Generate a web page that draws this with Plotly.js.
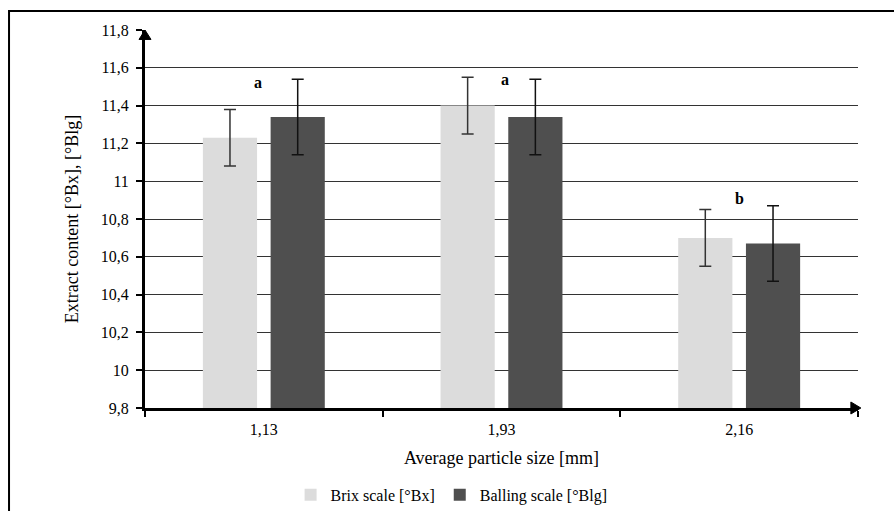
<!DOCTYPE html>
<html>
<head>
<meta charset="utf-8">
<script src="https://cdn.plot.ly/plotly-3.0.1.min.js"></script>
<style>html,body{margin:0;padding:0;background:#fff;}#chart{width:894px;height:511px;}</style>
</head>
<body>
<div id="chart"></div>
<script>
const categories = ["1,13", "1,93", "2,16"];
const brixValues = [11.23, 11.40, 10.70];
const brixErrors = [0.15, 0.15, 0.15];
const ballingValues = [11.34, 11.34, 10.67];
const ballingErrors = [0.20, 0.20, 0.20];
const groupLetters = ["a", "a", "b"];
const letterY = [11.52, 11.54, 10.91];
const letterShift = [-6, 3, 0];

const serif = "Liberation Serif, Times New Roman, serif";

const traces = [
  {
    type: "bar", name: "Brix scale [°Bx]", x: categories, y: brixValues,
    marker: {color: "#dcdcdc"},
    error_y: {type: "data", array: brixErrors, visible: true, color: "#333333", thickness: 1.5, width: 6}
  },
  {
    type: "bar", name: "Balling scale [°Blg]", x: categories, y: ballingValues,
    marker: {color: "#4f4f4f"},
    error_y: {type: "data", array: ballingErrors, visible: true, color: "#111111", thickness: 1.5, width: 6}
  }
];

const annotations = categories.map((c, i) => ({
  x: c, y: letterY[i], xref: "x", yref: "y", text: "<b>" + groupLetters[i] + "</b>",
  showarrow: false, xshift: letterShift[i], font: {family: serif, size: 16, color: "#000"}
}));

const layout = {
  width: 894, height: 511,
  margin: {l: 145, r: 36, t: 30, b: 103, autoexpand: false},
  paper_bgcolor: "#ffffff", plot_bgcolor: "#ffffff",
  separators: ",.",
  barmode: "group", bargap: 0.43, bargroupgap: 0.2,
  font: {family: serif, size: 16, color: "#000"},
  showlegend: true,
  legend: {orientation: "h", x: 0.43, xanchor: "center", y: -0.185, yanchor: "top",
           font: {family: serif, size: 16, color: "#000"}, traceorder: "normal",
           itemwidth: 30},
  xaxis: {
    type: "category", showline: true, linecolor: "#000", linewidth: 3,
    ticks: "outside", tickson: "boundaries", ticklen: 6, tickwidth: 2, tickcolor: "#000",
    showgrid: false, zeroline: false, automargin: false, ticklabelstandoff: 5,
    tickfont: {family: serif, size: 16},
    title: {text: "Average particle size [mm]", font: {family: serif, size: 18}, standoff: 15}
  },
  yaxis: {
    range: [9.8, 11.8], dtick: 0.2, tick0: 9.8,
    showline: true, linecolor: "#000", linewidth: 3,
    ticks: "outside", ticklen: 6, tickwidth: 2, tickcolor: "#000",
    showgrid: true, gridcolor: "#333333", gridwidth: 1, zeroline: false, automargin: false,
    ticklabelstandoff: 4,
    tickfont: {family: serif, size: 16},
    title: {text: "Extract content [°Bx], [°Blg]", font: {family: serif, size: 18}, standoff: 18}
  },
  annotations: annotations,
  shapes: [
    {type: "rect", xref: "paper", yref: "paper", x0: -0.1907, x1: 1.3, y0: -0.6, y1: 1.0503,
     line: {color: "#000", width: 2}, fillcolor: "rgba(0,0,0,0)", layer: "below"},
    {type: "path", xref: "paper", yref: "paper",
     path: "M -0.0084 0.975 L 0 1.0 L 0.0084 0.975 Z", fillcolor: "#000", line: {color: "#000", width: 1}},
    {type: "path", xref: "paper", yref: "paper",
     path: "M 0.990 0.0159 L 1.004 0 L 0.990 -0.0159 Z", fillcolor: "#000", line: {color: "#000", width: 1}}
  ]
};

Plotly.newPlot("chart", traces, layout, {displayModeBar: false, staticPlot: true});
</script>
</body>
</html>
